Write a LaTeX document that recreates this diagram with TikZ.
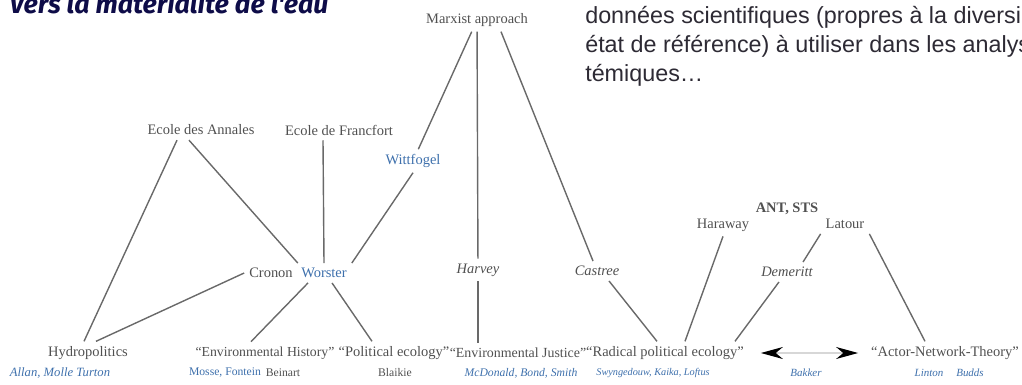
\documentclass[tikz,border=0pt]{standalone}
\usepackage{fontspec}
\setmainfont{Liberation Serif}
\newfontfamily\parafont{Liberation Sans}
\newfontfamily\titlefont{Fira Sans}
\usetikzlibrary{arrows.meta,calc}
\definecolor{txtgrey}{RGB}{80,80,80}
\definecolor{linegrey}{RGB}{105,105,105}
\definecolor{nameblue}{RGB}{62,112,172}
\definecolor{titlenavy}{RGB}{14,12,72}
\definecolor{paratext}{RGB}{45,42,52}
\definecolor{pale}{RGB}{215,215,215}

\begin{document}
\begin{tikzpicture}[x=0.25mm, y=-0.25mm, >=Stealth]
  \tikzset{lbl/.style={inner sep=1.2mm, text=txtgrey, font=\fontsize{10.3}{12}\selectfont},
    lblit/.style={lbl, font=\fontsize{10.3}{12}\selectfont\itshape},
    who/.style={inner sep=1mm, text=txtgrey, font=\fontsize{8.3}{10}\selectfont},
    whobl/.style={who, text=nameblue},
    whoit/.style={who, text=nameblue, font=\fontsize{8.3}{10}\selectfont\itshape},
    link/.style={draw=linegrey, line width=0.35mm},
    para/.style={anchor=base west, inner sep=0pt, text=paratext, font=\parafont\fontsize{16.6}{20}\selectfont}}
  \useasboundingbox (0,0) rectangle (1022,385);
  \clip (0,0) rectangle (1022,385);

  % slide text, cut by the frame
  \node[anchor=base west, inner sep=0pt, text=titlenavy, font=\titlefont\bfseries\itshape\fontsize{19}{22}\selectfont] (title) at (9,13) {Vers la matérialité de l'eau};
  \node[para] (para1) at (585,23) {données scientifiques (propres à la diversi};
  \node[para] (para2) at (585,52) {état de référence) à utiliser dans les analys};
  \node[para] (para3) at (585,81) {témiques…};

  % schools and authors
  \node[lbl] (marxist) at (477,20) {Marxist approach};
  \node[lbl] (annales) at (201,130) {Ecole des Annales};
  \node[lbl] (francfort) at (339,130) {Ecole de Francfort};
  \node[lbl, text=nameblue] (wittfogel) at (413,161) {Wittfogel};
  \node[lbl] (cronon) at (271,273) {Cronon};
  \node[lbl, text=nameblue] (worster) at (324,273) {Worster};
  \node[lblit] (harvey) at (478,270) {Harvey};
  \node[lblit] (castree) at (597,271) {Castree};
  \node[lbl] (haraway) at (723,225) {Haraway};
  \node[lbl, font=\fontsize{10.3}{12}\selectfont\bfseries] (antsts) at (787,209) {ANT, STS};
  \node[lbl] (latour) at (845,224) {Latour};
  \node[lblit] (demeritt) at (787,272) {Demeritt};

  % fields
  \node[lbl] (hydro) at (88,353) {Hydropolitics};
  \node[lbl, font=\fontsize{9.8}{11}\selectfont] (envhist) at (265,353) {``Environmental History''};
  \node[lbl] (poleco) at (394,353) {``Political ecology''};
  \node[lbl, font=\fontsize{9.9}{11}\selectfont] (envjust) at (518,353) {``Environmental Justice''};
  \node[lbl] (radical) at (665,353) {``Radical political ecology''};
  \node[lbl] (ant) at (945,353) {``Actor-Network-Theory''};

  % names under the fields
  \node[whoit, font=\fontsize{9}{10}\selectfont\itshape] (allan) at (60,373) {Allan, Molle Turton};
  \node[whoit, font=\fontsize{9}{10}\selectfont\itshape] (mollinga) at (83,391) {Mollinga};
  \node[whobl] (mosse) at (225,373) {Mosse, Fontein};
  \node[who] (beinart) at (283,373) {Beinart};
  \node[who] (blaikie) at (395,373) {Blaikie};
  \node[whoit] (mcdonald) at (521,373) {McDonald, Bond, Smith};
  \node[whoit, font=\fontsize{7.3}{9}\selectfont\itshape] (swyng) at (653,373) {Swyngedouw, Kaika, Loftus};
  \node[whoit, font=\fontsize{7.8}{9}\selectfont\itshape] (bakker) at (806,373) {Bakker};
  \node[whoit, font=\fontsize{7.8}{9}\selectfont\itshape] (linton) at (929,373) {Linton};
  \node[whoit, font=\fontsize{7.8}{9}\selectfont\itshape] (budds) at (970,373) {Budds};

  % lineage
  \draw[link] (marxist) -- (wittfogel);
  \draw[link] (marxist) -- (harvey);
  \draw[link] ([xshift=6mm]marxist.south) -- (castree);
  \draw[link] ([xshift=-6mm]annales.south) -- ([xshift=-1mm]hydro.north);
  \draw[link] ([xshift=-3mm]annales.south) -- (cronon.north east);
  \draw[link] ([xshift=-4mm]francfort.south) -- (worster.north);
  \draw[link] (wittfogel.south) -- (worster.north east);
  \draw[link] (cronon.west) -- ([xshift=2mm]hydro.north);
  \draw[link] ([xshift=-4mm]worster.south) -- ([xshift=-3.5mm]envhist.north);
  \draw[link] ([xshift=2mm]worster.south) -- ([xshift=-5.5mm]poleco.north);
  \draw[link] (harvey.south) -- (harvey.south |- envjust.north);
  \draw[link] ([xshift=3mm]castree.south) -- ([xshift=-2mm]radical.north);
  \draw[link] (haraway.south) -- ([xshift=5mm]radical.north);
  \draw[link] ([xshift=-2mm]demeritt.south) -- ([xshift=17.5mm]radical.north);
  \draw[link] (latour.south west) -- ([xshift=4mm]demeritt.north);
  \draw[link] (latour.south east) -- ([xshift=-5mm]ant.north);
  \draw[pale, line width=0.3mm, {Stealth[length=5.5mm, width=3mm, color=black]}-{Stealth[length=5.5mm, width=3mm, color=black]}, shorten <=3mm, shorten >=2mm] (radical.east) -- (ant.west);
\end{tikzpicture}
\end{document}
